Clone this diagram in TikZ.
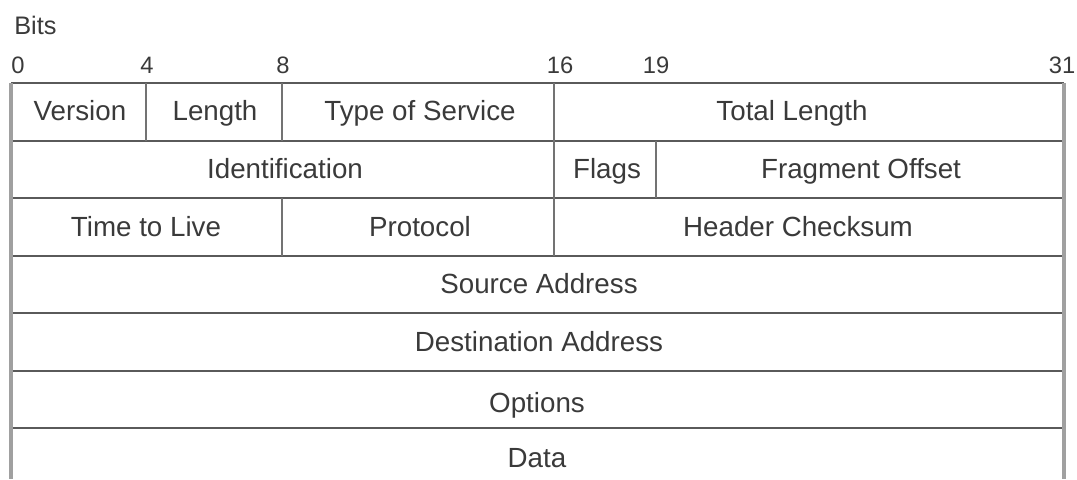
\documentclass[tikz,border=0pt]{standalone}
\usepackage{fontspec}
\setmainfont{Liberation Sans}
\definecolor{txt}{HTML}{3A3A3A}
\definecolor{hl}{HTML}{5A5A5A}
\definecolor{vl}{HTML}{737373}
\definecolor{ol}{HTML}{A0A0A0}
\tikzset{
  fld/.style={font=\fontsize{20.8}{24}\selectfont, text=txt, inner sep=0pt, text height=14.9pt, text depth=0pt},
  bitnum/.style={font=\fontsize{17.8}{21}\selectfont, text=txt, inner sep=0pt, text height=12.7pt, text depth=0pt},
  hline/.style={draw=hl, line width=1.5pt},
  vline/.style={draw=vl, line width=1.5pt},
  oline/.style={draw=ol, line width=2.3pt},
}
\begin{document}
\begin{tikzpicture}[x=0.75pt,y=-0.75pt]
\useasboundingbox (0,0) rectangle (1077,479);
% header
\node[bitnum, font=\fontsize{19}{22}\selectfont, text height=13.6pt, anchor=west] (bits) at (14,25) {Bits};
\node[bitnum] (b0) at (18,65) {0};
\node[bitnum] (b4) at (147,65) {4};
\node[bitnum] (b8) at (283,65) {8};
\node[bitnum] (b16) at (560,65) {16};
\node[bitnum] (b19) at (656,65) {19};
\node[bitnum] (b31) at (1062,65) {31};
% grid coordinates
\foreach \r/\y in {0/83,1/140.5,2/198,3/255.5,4/313,5/370.5,6/428}{
  \coordinate (L\r) at (11,\y);
  \coordinate (R\r) at (1064,\y);
}
\coordinate (Lb) at (11,479);
\coordinate (Rb) at (1064,479);
% horizontal lines
\foreach \r in {0,...,6}{ \draw[hline] (L\r) -- (R\r); }
% interior vertical lines
\draw[vline] (146,83) -- (146,140.5);
\draw[vline] (282,83) -- (282,140.5);
\draw[vline] (554,83) -- (554,255.5);
\draw[vline] (656,140.5) -- (656,198);
\draw[vline] (282,198) -- (282,255.5);
% outer vertical lines
\draw[oline] (L0) -- (Lb);
\draw[oline] (R0) -- (Rb);
% fields
\node[fld] (version) at (80,111) {Version};
\node[fld] (length) at (215,111) {Length};
\node[fld] (tos) at (420,111) {Type of Service};
\node[fld] (totlen) at (792,111) {Total Length};
\node[fld] (ident) at (285,169) {Identification};
\node[fld] (flags) at (607,169) {Flags};
\node[fld] (fragoff) at (861,169) {Fragment Offset};
\node[fld] (ttl) at (146,226.5) {Time to Live};
\node[fld] (proto) at (420,226.5) {Protocol};
\node[fld] (hcs) at (798,226.5) {Header Checksum};
\node[fld] (src) at (539,284) {Source Address};
\node[fld] (dst) at (539,341.5) {Destination Address};
\node[fld] (opts) at (537,403) {Options};
\node[fld] (data) at (537,458) {Data};
\end{tikzpicture}
\end{document}
